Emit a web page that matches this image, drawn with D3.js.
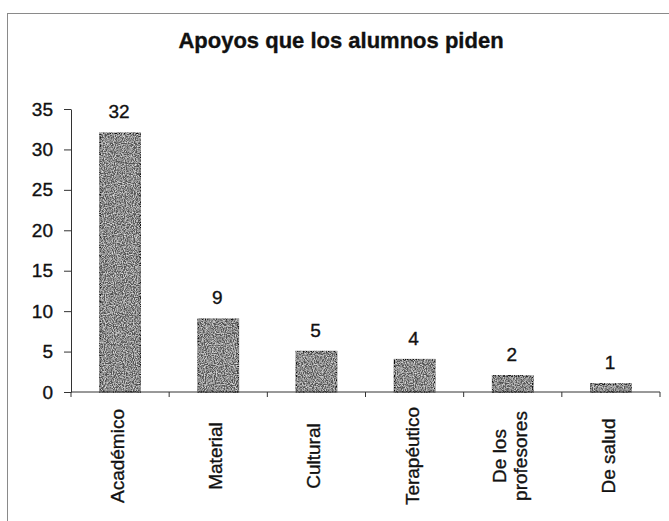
<!DOCTYPE html>
<html>
<head>
<meta charset="utf-8">
<script src="https://cdn.jsdelivr.net/npm/d3@7"></script>
<style>
  body { margin: 0; background: #fff; }
  svg { display: block; font-family: "Liberation Sans", Arial, sans-serif; }
  svg text { stroke: #111; stroke-width: 0.35px; }
</style>
</head>
<body>
<svg id="chart" width="669" height="521"></svg>
<script>
// Apoyos que los alumnos piden - bar chart

const categories = ["Académico", "Material", "Cultural", "Terapéutico", "De los|profesores", "De salud"];
const values = [32, 9, 5, 4, 2, 1];
const yTicks = [0, 5, 10, 15, 20, 25, 30, 35];

const svg = d3.select("#chart");

// grain for the scanned-looking bars
const defs = svg.append("defs");
const grain = defs.append("filter").attr("id", "grain");
grain.append("feTurbulence")
  .attr("type", "fractalNoise")
  .attr("baseFrequency", 0.9)
  .attr("numOctaves", 2)
  .attr("seed", 3)
  .attr("result", "noise");
grain.append("feColorMatrix")
  .attr("in", "noise")
  .attr("type", "matrix")
  .attr("values", "0 0 0 0 1  0 0 0 0 1  0 0 0 0 1  1.6 0 0 0 -0.6")
  .attr("result", "speck");
grain.append("feComposite")
  .attr("in", "speck")
  .attr("in2", "SourceGraphic")
  .attr("operator", "in")
  .attr("result", "speckIn");
grain.append("feMerge").call((m) => {
  m.append("feMergeNode").attr("in", "SourceGraphic");
  m.append("feMergeNode").attr("in", "speckIn");
});

// outer frame
svg.append("rect")
  .attr("x", 7.5)
  .attr("y", 13.5)
  .attr("width", 700)
  .attr("height", 560)
  .attr("fill", "none")
  .attr("stroke", "#8a8a8a")
  .attr("stroke-width", 1);

svg.append("text")
  .attr("x", 341)
  .attr("y", 48)
  .attr("text-anchor", "middle")
  .attr("font-size", 22)
  .attr("font-weight", "bold")
  .attr("fill", "#111")
  .text("Apoyos que los alumnos piden");

const x = d3.scaleBand().domain(categories).range([71, 660]).padding(0);
const y = d3.scaleLinear().domain([0, 35]).range([392, 109]);
const barW = x.bandwidth() * 0.41;

// bars
svg.append("g")
  .selectAll("rect")
  .data(values)
  .enter()
  .append("rect")
  .attr("x", (d, i) => x(categories[i]) + (x.bandwidth() - barW) / 2)
  .attr("y", (d) => y(d))
  .attr("width", barW)
  .attr("height", (d) => y(0) - y(d))
  .attr("fill", "#555")
  .attr("filter", "url(#grain)")
  .attr("stroke", "#111")
  .attr("stroke-width", 1.5);

// value labels
svg.append("g")
  .selectAll("text")
  .data(values)
  .enter()
  .append("text")
  .attr("x", (d, i) => x(categories[i]) + x.bandwidth() / 2 - 1)
  .attr("y", (d) => y(d) - 15)
  .attr("text-anchor", "middle")
  .attr("font-size", 19)
  .attr("fill", "#111")
  .text((d) => d);

// y axis
const yAxis = svg.append("g")
  .attr("transform", "translate(71,0)")
  .call(d3.axisLeft(y).tickValues(yTicks).tickSize(7).tickPadding(11).tickSizeOuter(0));
yAxis.select(".domain").attr("stroke", "#333");
yAxis.selectAll(".tick line").attr("stroke", "#333");
yAxis.selectAll(".tick text")
  .attr("font-size", 19)
  .attr("font-family", "Liberation Sans, Arial, sans-serif")
  .attr("fill", "#111");

// x axis
const xAxis = svg.append("g").attr("transform", `translate(0,${y(0)})`);
xAxis.append("line")
  .attr("x1", x.range()[0])
  .attr("x2", x.range()[1])
  .attr("stroke", "#333");
const edges = categories.map((c) => x(c)).concat([x.range()[1]]);
xAxis.selectAll(".edge")
  .data(edges)
  .enter()
  .append("line")
  .attr("class", "edge")
  .attr("x1", (d) => d)
  .attr("x2", (d) => d)
  .attr("y1", 0)
  .attr("y2", 5)
  .attr("stroke", "#333");

// rotated category labels
const labels = svg.append("g")
  .selectAll("text")
  .data(categories)
  .enter()
  .append("text")
  .attr("transform", (c) => `translate(${x(c) + x.bandwidth() / 2},456) rotate(-90)`)
  .attr("text-anchor", "middle")
  .attr("font-size", 19)
  .attr("fill", "#111");

labels.each(function (c) {
  const lines = c.split("|");
  const t = d3.select(this);
  lines.forEach((line, i) => {
    t.append("tspan")
      .attr("x", 0)
      .attr("y", (i - (lines.length - 1) / 2) * 21 + 4)
      .text(line);
  });
});
</script>
</body>
</html>
